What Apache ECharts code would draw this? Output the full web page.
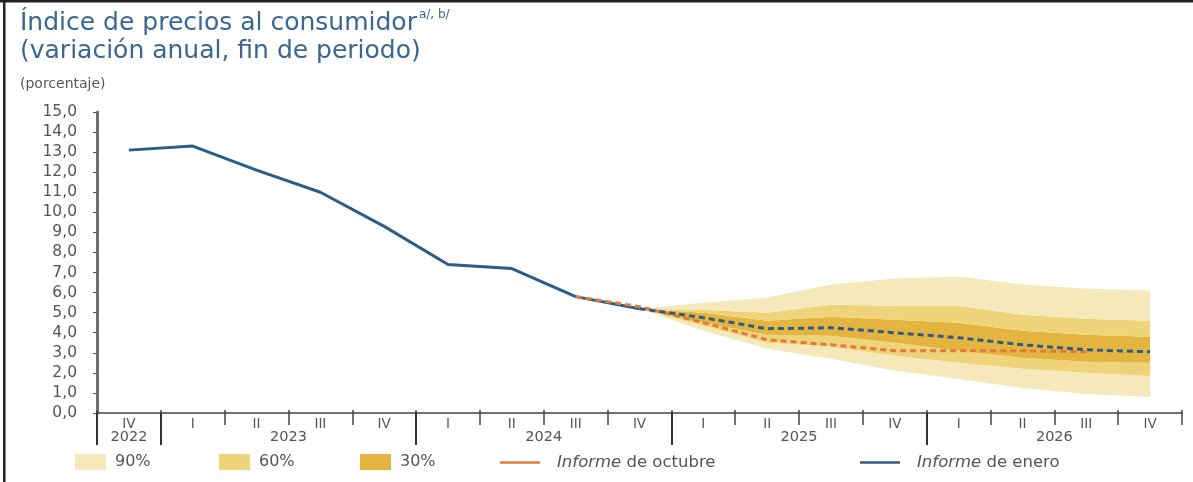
<!DOCTYPE html>
<html>
<head>
<meta charset="utf-8">
<title>Índice de precios al consumidor</title>
<script src="https://cdn.jsdelivr.net/npm/echarts@6/dist/echarts.min.js"></script>
<style>
  html, body { margin: 0; padding: 0; background: #fff; }
  #chart { width: 1193px; height: 482px; }
</style>
</head>
<body>
<div id="chart"></div>
<script>
// categorías (trimestres) y años
const quarterLabels = ['IV', 'I', 'II', 'III', 'IV', 'I', 'II', 'III', 'IV', 'I', 'II', 'III', 'IV', 'I', 'II', 'III', 'IV'];
const yearLabels = ['2022', '2023', '2024', '2025', '2026'];
const quartersPerYear = [1, 4, 4, 4, 4];

// inflación observada (IV-2022 a IV-2024)
const observed = [13.1, 13.3, 12.1, 11.0, 9.3, 7.4, 7.2, 5.8, 5.2];
// pronóstico informe de enero (IV-2024 a IV-2026)
const forecastEnero = [5.2, 4.75, 4.2, 4.25, 4.0, 3.75, 3.4, 3.15, 3.05];
// pronóstico informe de octubre (III-2024 a III-2026)
const forecastOctubre = [5.8, 5.3, 4.5, 3.65, 3.4, 3.1, 3.1, 3.1, 3.05];

// límites del fan chart (IV-2024 a IV-2026)
const lo90 = [5.2, 4.1, 3.2, 2.7, 2.1, 1.7, 1.25, 0.95, 0.8];
const lo60 = [5.2, 4.35, 3.5, 3.3, 2.85, 2.5, 2.2, 2.0, 1.85];
const lo30 = [5.2, 4.5, 3.9, 3.85, 3.5, 3.1, 2.75, 2.55, 2.5];
const hi30 = [5.2, 5.0, 4.6, 4.8, 4.65, 4.5, 4.1, 3.9, 3.8];
const hi60 = [5.2, 5.15, 5.0, 5.4, 5.35, 5.35, 4.9, 4.7, 4.6];
const hi90 = [5.2, 5.5, 5.75, 6.4, 6.7, 6.8, 6.4, 6.2, 6.1];

const c90 = '#f5e9bc';
const c60 = '#eed37b';
const c30 = '#e3b43f';
const cBlue = '#2c5d86';
const cOrange = '#e07b39';
const cTitle = '#3a6790';
const cText = '#555';
const font = 'DejaVu Sans';

const n = quarterLabels.length;

// rellena con null para ubicar la serie a partir de un índice
function pad(arr, start) {
  const out = new Array(n).fill(null);
  arr.forEach((v, i) => { out[start + i] = v; });
  return out;
}
function diff(a, b) {
  return a.map((v, i) => +(v - b[i]).toFixed(3));
}

const fanStart = 8;

// posiciones de los años sobre el eje (en unidades de trimestre)
const yearBounds = [0];
const yearCenters = [];
let acc = 0;
quartersPerYear.forEach((q) => {
  yearCenters.push(acc + q / 2);
  acc += q;
  yearBounds.push(acc);
});
yearBounds.pop();
const allBounds = [];
for (let i = 0; i <= n; i++) allBounds.push(i);

function band(name, data, color) {
  return {
    name: name,
    type: 'line',
    stack: 'fan',
    data: pad(data, fanStart),
    color: color,
    symbol: 'none',
    lineStyle: { width: 0 },
    areaStyle: { color: color, opacity: 1 },
    emphasis: { disabled: true },
    z: 1,
  };
}

const chart = echarts.init(document.getElementById('chart'));

function legendAt(left, name, isLine) {
  const fs = isLine ? 16.5 : 16;
  return {
    left: left,
    top: 449,
    data: [name],
    icon: 'rect',
    itemWidth: isLine ? 40 : 31,
    itemHeight: isLine ? 2.5 : 16,
    textStyle: {
      color: cText,
      fontSize: fs,
      fontFamily: font,
      padding: [0, 0, 0, isLine ? 12 : 4],
      rich: { i: { fontStyle: 'italic', color: cText, fontSize: fs, fontFamily: font } },
    },
    selectedMode: false,
    formatter: (nm) => nm.replace('Informe', '{i|Informe}'),
  };
}

const option = {
  animation: false,
  textStyle: { fontFamily: font },
  title: [
    {
      left: 15,
      top: 4,
      text: '{t|Índice de precios al consumidor}{s|a/, b/}\n{t|(variación anual, fin de periodo)}',
      textStyle: {
        rich: {
          t: { fontSize: 25, color: cTitle, fontWeight: 'normal', fontFamily: font, lineHeight: 28 },
          s: { fontSize: 12, color: cTitle, fontWeight: 'normal', fontFamily: font, verticalAlign: 'top', lineHeight: 14, padding: [0, 0, 0, 2] },
        },
      },
    },
    {
      left: 15,
      top: 72,
      text: '(porcentaje)',
      textStyle: { fontSize: 14, color: cText, fontWeight: 'normal', fontFamily: font },
    },
  ],
  graphic: [
    { type: 'rect', shape: { x: 0, y: 0, width: 1193, height: 2.5 }, style: { fill: '#222' } },
    { type: 'rect', shape: { x: 3, y: 0, width: 2.5, height: 482 }, style: { fill: '#222' } },
  ],
  legend: [
    legendAt(70, '90%', false),
    legendAt(214, '60%', false),
    legendAt(355, '30%', false),
    legendAt(495, 'Informe de octubre', true),
    legendAt(855, 'Informe de enero', true),
  ],
  grid: { left: 97, right: 11, top: 112, bottom: 69, containLabel: false, outerBoundsMode: 'none' },
  xAxis: [
    {
      type: 'category',
      data: quarterLabels,
      boundaryGap: true,
      axisLine: { lineStyle: { color: '#444', width: 1.5 } },
      axisTick: { show: true, interval: 0, length: 12, lineStyle: { color: '#444', width: 1.5 } },
      axisLabel: { interval: 0, margin: 4, fontSize: 13.5, color: cText, fontFamily: font },
      splitLine: { show: false },
    },
    {
      type: 'value',
      min: 0,
      max: n,
      position: 'bottom',
      axisLine: { show: false },
      axisTick: { show: true, customValues: yearBounds, length: 32, lineStyle: { color: '#333', width: 2 } },
      axisLabel: {
        customValues: yearCenters,
        margin: 17,
        fontSize: 14.5,
        color: cText,
        fontFamily: font,
        formatter: (v) => yearLabels[yearCenters.indexOf(v)] || '',
      },
      splitLine: { show: false },
    },
    {
      type: 'value',
      min: 0,
      max: n,
      position: 'bottom',
      axisLine: { show: false },
      axisTick: { show: true, inside: true, customValues: allBounds, length: 3, lineStyle: { color: '#444', width: 1.5 } },
      axisLabel: { show: false },
      splitLine: { show: false },
    },
  ],
  yAxis: {
    type: 'value',
    min: 0,
    max: 15,
    interval: 1,
    axisLine: { show: true, lineStyle: { color: '#6e6e6e', width: 3 } },
    axisTick: { show: true, length: 4, lineStyle: { color: '#555', width: 1 } },
    axisLabel: {
      margin: 20,
      fontSize: 15.5,
      color: cText,
      fontFamily: font,
      formatter: (v) => v.toFixed(1).replace('.', ','),
    },
    splitLine: { show: false },
  },
  series: [
    {
      name: 'base',
      type: 'line',
      stack: 'fan',
      data: pad(lo90, fanStart),
      symbol: 'none',
      lineStyle: { width: 0 },
      emphasis: { disabled: true },
      z: 1,
    },
    band('90%', diff(lo60, lo90), c90),
    band('60%', diff(lo30, lo60), c60),
    band('30%', diff(hi30, lo30), c30),
    band('60%', diff(hi60, hi30), c60),
    band('90%', diff(hi90, hi60), c90),
    {
      name: 'Informe de enero',
      type: 'line',
      data: pad(observed, 0),
      color: cBlue,
      symbol: 'none',
      lineStyle: { width: 3, color: cBlue },
      emphasis: { disabled: true },
      z: 3,
    },
    {
      name: 'Informe de octubre',
      type: 'line',
      data: pad(forecastOctubre, 7),
      color: cOrange,
      symbol: 'none',
      lineStyle: { width: 3, color: cOrange, type: [6, 4] },
      emphasis: { disabled: true },
      z: 4,
    },
    {
      name: 'Informe de enero',
      type: 'line',
      data: pad(forecastEnero, fanStart),
      color: cBlue,
      symbol: 'none',
      lineStyle: { width: 3, color: cBlue, type: [6, 4] },
      emphasis: { disabled: true },
      z: 5,
    },
  ],
};

chart.setOption(option);
</script>
</body>
</html>
